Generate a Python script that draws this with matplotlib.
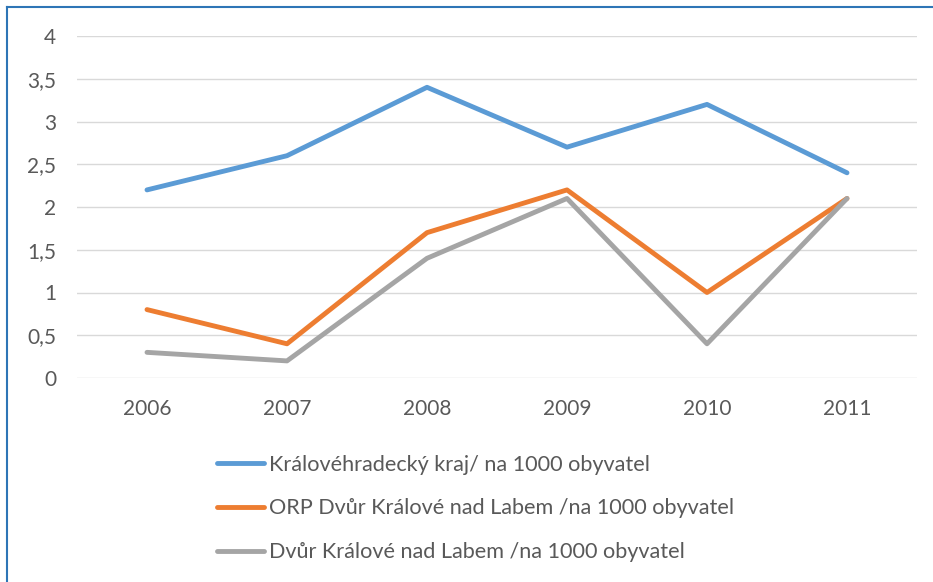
import matplotlib.pyplot as plt
from matplotlib.lines import Line2D

years = ["2006", "2007", "2008", "2009", "2010", "2011"]
kraj = [2.2, 2.6, 3.4, 2.7, 3.2, 2.4]
orp = [0.8, 0.4, 1.7, 2.2, 1.0, 2.1]
mesto = [0.3, 0.2, 1.4, 2.1, 0.4, 2.1]
labels = ["Královéhradecký kraj/ na 1000 obyvatel",
          "ORP Dvůr Králové nad Labem /na 1000 obyvatel",
          "Dvůr Králové nad Labem /na 1000 obyvatel"]
yticks = [0, 0.5, 1, 1.5, 2, 2.5, 3, 3.5, 4]

plt.rcParams['font.family'] = ['Lato', 'DejaVu Sans']

fig = plt.figure(figsize=(9.33, 5.82), dpi=100)
ax = fig.add_axes([77/933, 1 - 378/582, 840/933, 342/582])

x = range(len(years))
ax.plot(x, kraj, color='#5B9BD5', lw=3.5, label=labels[0], solid_capstyle='round')
ax.plot(x, orp, color='#ED7D31', lw=3.5, label=labels[1], solid_capstyle='round')
ax.plot(x, mesto, color='#A5A5A5', lw=3.5, label=labels[2], solid_capstyle='round')

ax.set_xlim(-0.5, len(years) - 0.5)
ax.set_ylim(0, 4)
ax.set_xticks(list(x))
ax.set_xticklabels(years)
ax.set_yticks(yticks)
ax.set_yticklabels([f"{v:g}".replace('.', ',') for v in yticks])
ax.tick_params(length=0, labelsize=15, colors='#595959')
ax.tick_params(axis='y', pad=15)
ax.tick_params(axis='x', pad=15)
ax.grid(axis='y', color='#D9D9D9', lw=1)
ax.set_axisbelow(True)
for s in ax.spines.values():
    s.set_visible(False)

leg = fig.legend(loc='upper left', bbox_to_anchor=(208/933, 1 - 446/582),
                 frameon=False, fontsize=15.6, handlelength=2.2,
                 handletextpad=0.2, labelspacing=1.1, borderaxespad=0)
for t in leg.get_texts():
    t.set_color('#595959')

# thin blue frame on the left and top
fig.add_artist(Line2D([7/933, 7/933], [0, 1 - 7/582], color='#2E75B6', lw=1.5,
                      transform=fig.transFigure))
fig.add_artist(Line2D([7/933, 1], [1 - 7/582, 1 - 7/582], color='#2E75B6', lw=1.5,
                      transform=fig.transFigure))

fig.savefig("out.png", dpi=100)
